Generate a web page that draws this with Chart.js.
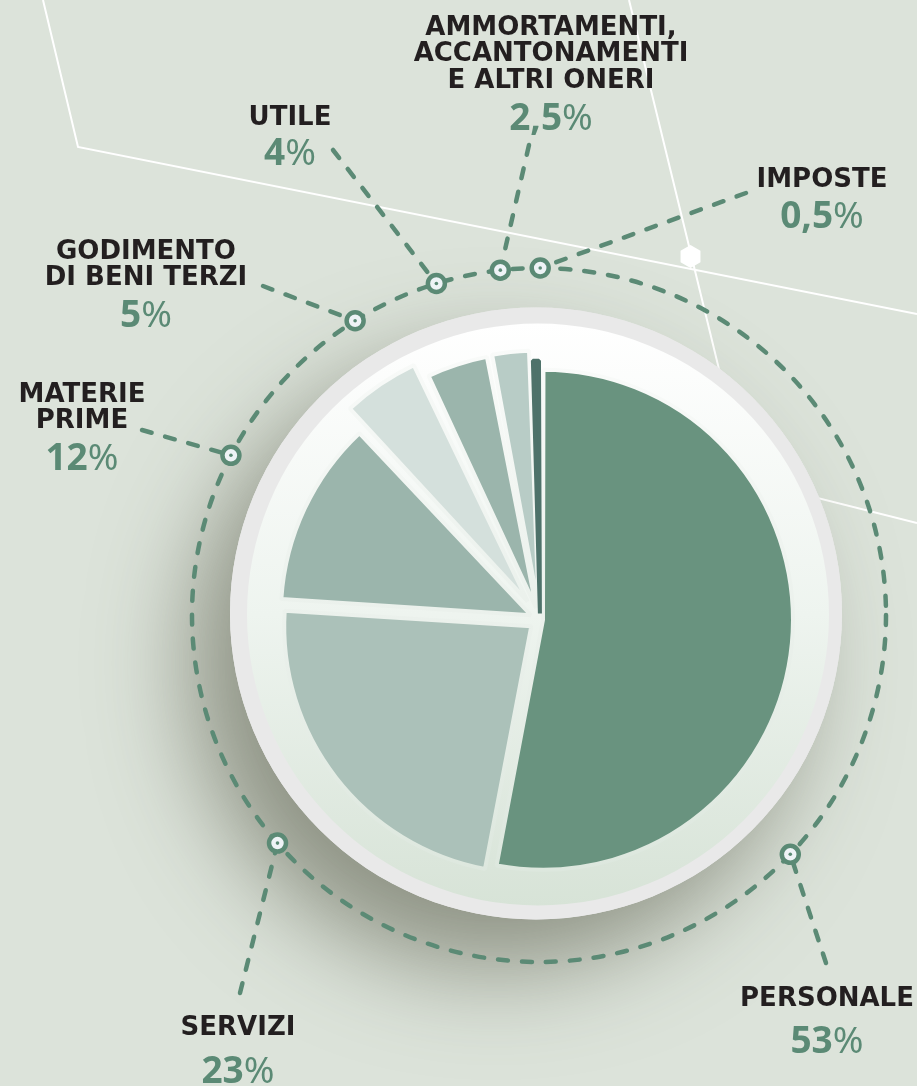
<!DOCTYPE html>
<html>
<head>
<meta charset="utf-8">
<script src="https://cdn.jsdelivr.net/npm/chart.js@4.4.0/dist/chart.umd.min.js"></script>
<style>
    body { margin: 0; background: #dce3da; overflow: hidden; }
    #costChart { position: absolute; left: 0; top: 0; }
    .lbl {
        position: absolute; width: 320px; margin-left: -160px; text-align: center;
        font-family: "DejaVu Sans"; font-weight: bold; font-size: 26px; line-height: 26.7px;
        color: #231f20; white-space: nowrap;
    }
    .pct {
        position: absolute; width: 200px; margin-left: -100px; text-align: center;
        font-family: "Noto Sans"; font-weight: 700; font-size: 37px; line-height: 40px;
        color: #5b8a75; white-space: nowrap;
    }
    .pct span { font-weight: 400; }
</style>
</head>
<body>
<canvas id="costChart" width="917" height="1086"></canvas>
<div id="labels"></div>
<script>
// Ripartizione dei costi
const categories = ['PERSONALE', 'SERVIZI', 'MATERIE PRIME', 'GODIMENTO DI BENI TERZI', 'UTILE', 'AMMORTAMENTI, ACCANTONAMENTI E ALTRI ONERI', 'IMPOSTE'];
const shares = [53, 23, 12, 5, 4, 2.5, 0.5];
const labelLines = [['PERSONALE'], ['SERVIZI'], ['MATERIE', 'PRIME'], ['GODIMENTO', 'DI BENI TERZI'], ['UTILE'], ['AMMORTAMENTI,', 'ACCANTONAMENTI', 'E ALTRI ONERI'], ['IMPOSTE']];

// look & layout
const sliceColors = ['#69937f', '#abc1b9', '#9bb5ac', '#d4e0dc', '#9bb5ac', '#b8ccc6', '#4e726a'];
const sliceOffsets = [12, 44, 40, 88, 48, 48, 24];
const markerAngles = [133.6, 228.9, 297.4, 328, 342.8, 353.6, 0.2];
const leaderEnds = [[826, 963], [240, 993], [142, 430], [263, 286], [333, 150], [529, 145], [746, 193]];
const labelSpots = [[827, 1006, 1053], [238, 1035, 1083], [82, 402, 470], [146, 259, 327], [290, 125, 165], [551, 35, 130], [822, 187, 228]];

const green = '#5b8a75';
const ring = { x: 539, y: 615, r: 347 };
// the tiniest slice gets an edge in its own colour so it stays visible
const tinySlice = shares.indexOf(Math.min(...shares));

function circle(ctx, x, y, r) {
    ctx.beginPath();
    ctx.arc(x, y, r, 0, Math.PI * 2);
}

function markerPoint(deg) {
    const a = deg * Math.PI / 180;
    return [ring.x + ring.r * Math.sin(a), ring.y - ring.r * Math.cos(a)];
}

// background, lines, disc and shadow
const backdrop = {
    id: 'backdrop',
    beforeDraw(chart) {
        const ctx = chart.ctx;
        ctx.save();
        ctx.fillStyle = '#dce3da';
        ctx.fillRect(0, 0, chart.width, chart.height);

        ctx.strokeStyle = '#ffffff';
        ctx.lineWidth = 2;
        ctx.beginPath();
        ctx.moveTo(43, 0); ctx.lineTo(78, 147); ctx.lineTo(917, 314);
        ctx.moveTo(629, 0); ctx.lineTo(746, 480); ctx.lineTo(917, 523);
        ctx.stroke();

        ctx.fillStyle = '#ffffff';
        ctx.beginPath();
        for (let k = 0; k < 6; k++) {
            const a = (-90 + 60 * k) * Math.PI / 180;
            ctx.lineTo(690.5 + 11.5 * Math.cos(a), 256.5 + 11.5 * Math.sin(a));
        }
        ctx.closePath();
        ctx.fill();

        ctx.save();
        ctx.shadowColor = 'rgba(95, 98, 80, 0.62)';
        ctx.shadowBlur = 95;
        ctx.shadowOffsetX = -40;
        ctx.shadowOffsetY = 50;
        ctx.fillStyle = '#e9e9e9';
        circle(ctx, 536, 613.5, 306);
        ctx.fill();
        ctx.restore();

        ctx.fillStyle = '#e9e9e9';
        circle(ctx, 536, 613.5, 306);
        ctx.fill();

        const g = ctx.createLinearGradient(0, 322, 0, 907);
        g.addColorStop(0, '#ffffff');
        g.addColorStop(0.5, '#eef4ef');
        g.addColorStop(1, '#d7e3d7');
        ctx.fillStyle = g;
        circle(ctx, 538, 614.5, 291);
        ctx.fill();
        ctx.restore();
    },
    afterDraw(chart) {
        const ctx = chart.ctx;
        ctx.save();
        ctx.strokeStyle = green;
        ctx.lineWidth = 4.5;
        ctx.lineCap = 'round';
        ctx.setLineDash([10, 14]);
        circle(ctx, ring.x, ring.y, ring.r);
        ctx.stroke();

        markerAngles.forEach((deg, i) => {
            const [mx, my] = markerPoint(deg);
            ctx.beginPath();
            ctx.moveTo(leaderEnds[i][0], leaderEnds[i][1]);
            ctx.lineTo(mx, my);
            ctx.stroke();
        });

        ctx.setLineDash([]);
        markerAngles.forEach(deg => {
            const [mx, my] = markerPoint(deg);
            ctx.fillStyle = '#eef3f6';
            circle(ctx, mx, my, 8.5);
            ctx.fill();
            ctx.lineWidth = 4.5;
            ctx.stroke();
            ctx.fillStyle = green;
            circle(ctx, mx, my, 1.8);
            ctx.fill();
        });
        ctx.restore();
    }
};

let gapGradient = null;
function gapColor(context) {
    if (context.dataIndex === tinySlice) return sliceColors[tinySlice];
    if (!gapGradient) {
        gapGradient = context.chart.ctx.createLinearGradient(0, 322, 0, 907);
        gapGradient.addColorStop(0, '#fbfcfb');
        gapGradient.addColorStop(0.5, '#ebf1ec');
        gapGradient.addColorStop(1, '#dbe6dc');
    }
    return gapGradient;
}

const costCtx = document.getElementById('costChart').getContext('2d');
new Chart(costCtx, {
    type: 'pie',
    data: {
        labels: categories,
        datasets: [{
            data: shares,
            backgroundColor: sliceColors,
            offset: sliceOffsets,
            borderWidth: 4,
            borderColor: gapColor
        }]
    },
    options: {
        responsive: false,
        devicePixelRatio: 1,
        animation: false,
        events: [],
        radius: 247,
        layout: { padding: { left: 163, top: 153, right: 0, bottom: 0 } },
        plugins: {
            legend: { display: false },
            tooltip: { enabled: false }
        }
    },
    plugins: [backdrop]
});

// labels as real text
const layer = document.getElementById('labels');
categories.forEach((cat, i) => {
    const [x, nameBase, pctBase] = labelSpots[i];
    const name = document.createElement('div');
    name.className = 'lbl';
    name.style.left = x + 'px';
    name.style.top = (nameBase - 22.35) + 'px';
    name.innerHTML = labelLines[i].join('<br>');
    layer.appendChild(name);

    const pct = document.createElement('div');
    pct.className = 'pct';
    pct.style.left = x + 'px';
    pct.style.top = (pctBase - 34.3) + 'px';
    pct.innerHTML = String(shares[i]).replace('.', ',') + '<span>%</span>';
    layer.appendChild(pct);
});
</script>
</body>
</html>
